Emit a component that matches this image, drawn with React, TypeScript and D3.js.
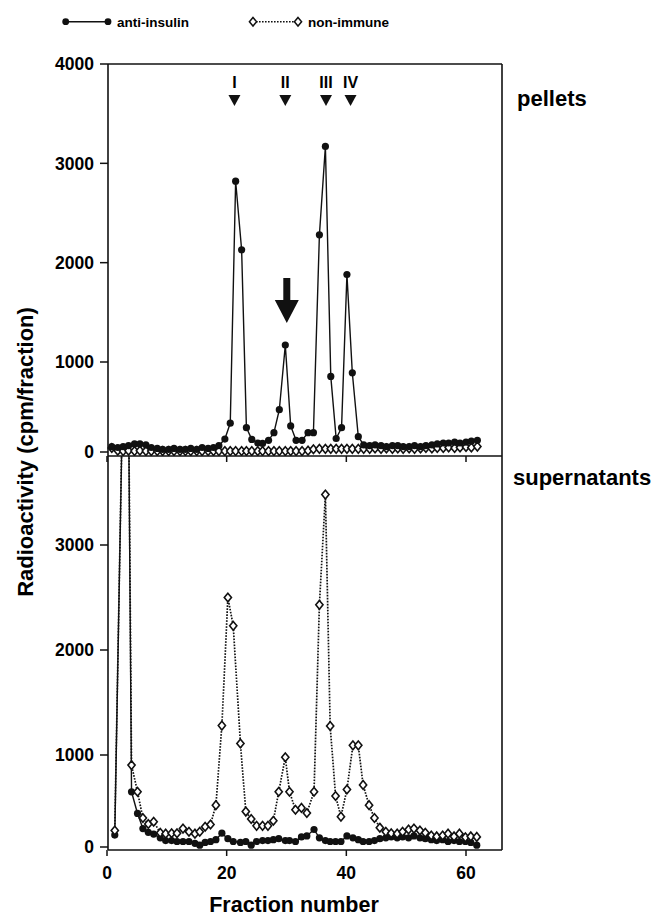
import React from "react";
import * as d3 from "d3";

// fraction positions (points sit a bit off the integer grid)
const topFractions = [
  0.8, 1.8, 2.7, 3.6, 4.6, 5.5, 6.5, 7.4, 8.4, 9.3, 10.3, 11.2, 12.2, 13.1, 14.0, 15.0, 15.9, 16.9, 17.8, 18.7,
  19.7, 20.6, 21.5, 22.5, 23.3, 24.2, 25.2, 26.0, 27.0, 27.9, 28.8, 29.8, 30.7, 31.6, 32.6, 33.6, 34.5, 35.5, 36.5, 37.4,
  38.3, 39.2, 40.1, 41.0, 42.0, 42.9, 43.9, 44.8, 45.8, 46.7, 47.7, 48.6, 49.5, 50.5, 51.4, 52.4, 53.3, 54.3, 55.2, 56.2,
  57.1, 58.1, 59.0, 60.0, 60.9, 61.9,
];
const topAntiInsulin = [
  60, 50, 60, 70, 90, 90, 80, 50, 40, 30, 30, 40, 30, 30, 40, 30, 50, 40, 50, 70,
  144, 320, 2820, 2130, 270, 140, 100, 95, 130, 215, 470, 1170, 290, 130, 130, 215, 215, 2280, 3170, 840,
  150, 270, 1880, 880, 170, 80, 70, 80, 70, 60, 70, 70, 60, 60, 70, 60, 70, 80, 90, 100,
  100, 110, 100, 110, 120, 130,
];
const topNonImmune = [
  45, 15, 10, 15, 10, 15, 10, 10, 10, 10, 10, 10, 10, 10, 10, 10, 10, 10, 10, 10,
  10, 10, 10, 10, 10, 10, 10, 10, 10, 10, 10, 10, 10, 10, 10, 15, 30, 35, 35, 35,
  35, 35, 35, 35, 35, 35, 35, 40, 35, 40, 35, 40, 35, 40, 35, 40, 45, 40, 45, 45,
  50, 45, 50, 55, 50, 60,
];

const bottomFractions = [
  1.3, 3.3, 4.1, 5.1, 6.0, 6.9, 7.8, 8.9, 9.8, 10.8, 11.7, 12.7, 13.7, 14.7, 15.5, 16.4, 17.3,
  18.2, 19.2, 20.2, 21.1, 22.3, 23.2, 24.1, 25.0, 26.0, 26.9, 27.8, 28.7, 29.8, 30.5, 31.5, 32.5, 33.4, 34.6, 35.5,
  36.5, 37.3, 38.2, 39.1, 40.1, 41.1, 42.0, 42.8, 43.8, 44.7, 45.6,
  46.6, 47.5, 48.5, 49.4, 50.4, 51.3, 52.3, 53.2, 54.2, 55.1, 56.1, 57.0, 58.0, 58.9, 59.9, 60.8, 61.8,
];
// fraction ~3 is far off scale in both series
const bottomAntiInsulin = [
  130, 6600, 600, 365, 200, 160, 140, 100, 70, 70, 60, 60, 60, 40, 20, 50, 60,
  80, 150, 90, 60, 50, 60, 20, 60, 70, 70, 80, 90, 70, 70, 60, 110, 120, 190, 100,
  70, 60, 60, 60, 120, 100, 80, 60, 60, 70, 90,
  100, 110, 100, 110, 100, 120, 100, 90, 80, 70, 80, 60, 70, 60, 60, 50, 20,
];
const bottomNonImmune = [
  180, 6600, 890, 600, 315, 250, 275, 155, 145, 150, 150, 200, 165, 145, 165, 220, 245,
  455, 1280, 2500, 2230, 1110, 385, 305, 230, 230, 230, 285, 600, 975, 600, 405, 425, 370, 600, 2430,
  3480, 1276, 555, 330, 625, 1092, 1092, 675, 455, 315, 210,
  165, 150, 145, 165, 190, 200, 180, 155, 125, 115, 125, 145, 115, 145, 105, 115, 110,
];

const xTicks = [0, 20, 40, 60];
const topYTicks = [0, 1000, 2000, 3000, 4000];
const bottomYTicks = [0, 1000, 2000, 3000];
const peakFractions = [21.3, 29.8, 36.6, 40.7];
const peakLabels = ["I", "II", "III", "IV"];

const width = 655;
const height = 919;
const left = 108;
const right = 502;
const topY = 64;
const midY = 456;
const bottomY = 850;
const font = "'Liberation Sans', Arial, Helvetica, sans-serif";

const x = d3.scaleLinear().domain([0, 60]).range([107, 466]);
const yTop = d3.scaleLinear().domain([0, 1000, 4000]).range([452, 362, 64]);
const yBottom = d3.scaleLinear().domain([0, 1000, 3000]).range([847, 755, 545]);

const diamond = "M0,-4.3L3.6,0L0,4.3L-3.6,0Z";

function Series({ fr, vals, y, dotted }: { fr: number[]; vals: number[]; y: any; dotted?: boolean }) {
  const line = d3.line<number>().x((d, i) => x(fr[i])).y((d) => y(d));
  return (
    <g>
      <path
        d={line(vals) || ""}
        fill="none"
        stroke="#111"
        strokeWidth={dotted ? 1.7 : 1.4}
        strokeDasharray={dotted ? "1.6,1.4" : undefined}
      />
      {vals.map((v, i) =>
        dotted ? (
          <path key={i} d={diamond} transform={`translate(${x(fr[i])},${y(v)})`} fill="#fff" stroke="#111" strokeWidth={1.6} />
        ) : (
          <circle key={i} cx={x(fr[i])} cy={y(v)} r={3.6} fill="#111" />
        )
      )}
    </g>
  );
}

export default function App() {
  const arrowX = x(30.05);
  return (
    <svg width={width} height={height} style={{ position: "absolute", left: 0, top: 0, background: "#fff" }} fontFamily={font} fontWeight="bold">
      <defs>
        <clipPath id="clipTop">
          <rect x={100} y={56} width={410} height={midY - 56} />
        </clipPath>
        <clipPath id="clipBottom">
          <rect x={100} y={midY} width={410} height={bottomY + 10 - midY} />
        </clipPath>
      </defs>

      {/* legend */}
      <g>
        <line x1={65.7} x2={108} y1={21.7} y2={21.7} stroke="#111" strokeWidth={1.5} />
        <circle cx={65.7} cy={21.7} r={3.4} fill="#111" />
        <circle cx={108} cy={21.7} r={3.4} fill="#111" />
        <text x={117} y={26.5} fontSize={13.5}>anti-insulin</text>
        <line x1={253} x2={298} y1={21.7} y2={21.7} stroke="#111" strokeWidth={1.5} strokeDasharray="1.6,1.4" />
        <path d={diamond} transform="translate(253,21.7)" fill="#fff" stroke="#111" strokeWidth={1.5} />
        <path d={diamond} transform="translate(298,21.7)" fill="#fff" stroke="#111" strokeWidth={1.5} />
        <text x={308} y={26.5} fontSize={13.5}>non-immune</text>
      </g>

      {/* frame */}
      <g stroke="#111" strokeWidth={1.6} fill="none">
        <line x1={left} x2={right} y1={topY} y2={topY} />
        <line x1={right} x2={right} y1={topY} y2={bottomY} />
        <line x1={left} x2={right} y1={midY} y2={midY} />
        <line x1={left} x2={right} y1={bottomY} y2={bottomY} />
        <line x1={left} x2={left} y1={topY} y2={bottomY} />
      </g>

      {/* y axes */}
      {topYTicks.map((t) => (
        <g key={"t" + t}>
          <line x1={left - 8} x2={left} y1={yTop(t)} y2={yTop(t)} stroke="#111" strokeWidth={1.5} />
          <text x={left - 14} y={yTop(t)} dy="0.36em" textAnchor="end" fontSize={17.5}>{t}</text>
        </g>
      ))}
      {bottomYTicks.map((t) => (
        <g key={"b" + t}>
          <line x1={left - 8} x2={left} y1={yBottom(t)} y2={yBottom(t)} stroke="#111" strokeWidth={1.5} />
          <text x={left - 14} y={yBottom(t)} dy="0.36em" textAnchor="end" fontSize={17.5}>{t}</text>
        </g>
      ))}

      {/* x ticks */}
      {xTicks.map((t) => (
        <g key={"x" + t}>
          <line x1={x(t)} x2={x(t)} y1={midY} y2={midY + 6} stroke="#111" strokeWidth={1.5} />
          <line x1={x(t)} x2={x(t)} y1={bottomY} y2={bottomY + 6} stroke="#111" strokeWidth={1.5} />
          <text x={x(t)} y={879} textAnchor="middle" fontSize={17.5}>{t}</text>
        </g>
      ))}

      {/* top panel: pellets */}
      <g clipPath="url(#clipTop)">
        <Series fr={topFractions} vals={topNonImmune} y={yTop} dotted />
        <Series fr={topFractions} vals={topAntiInsulin} y={yTop} />
      </g>

      {/* bottom panel: supernatants */}
      <g clipPath="url(#clipBottom)">
        <Series fr={bottomFractions} vals={bottomAntiInsulin} y={yBottom} />
        <Series fr={bottomFractions} vals={bottomNonImmune} y={yBottom} dotted />
      </g>

      {/* peak markers */}
      {peakFractions.map((f, i) => (
        <g key={"p" + i}>
          <text x={x(f)} y={88} textAnchor="middle" fontSize={16}>{peakLabels[i]}</text>
          <path d={`M${x(f) - 6},95L${x(f) + 6},95L${x(f)},106Z`} fill="#111" />
        </g>
      ))}

      {/* big arrow over peak II */}
      <path
        d={`M${arrowX - 3.5},${yTop(1846)}L${arrowX + 3.5},${yTop(1846)}L${arrowX + 3.5},${yTop(1624)}L${arrowX + 12},${yTop(1624)}L${arrowX},${yTop(1393)}L${arrowX - 12},${yTop(1624)}L${arrowX - 3.5},${yTop(1624)}Z`}
        fill="#111"
      />

      <text x={517} y={106} fontSize={22}>pellets</text>
      <text x={513} y={485} fontSize={22}>supernatants</text>

      <text transform="translate(33,452) rotate(-90)" textAnchor="middle" fontSize={22}>Radioactivity (cpm/fraction)</text>
      <text x={294} y={912} textAnchor="middle" fontSize={21.5}>Fraction number</text>
    </svg>
  );
}
